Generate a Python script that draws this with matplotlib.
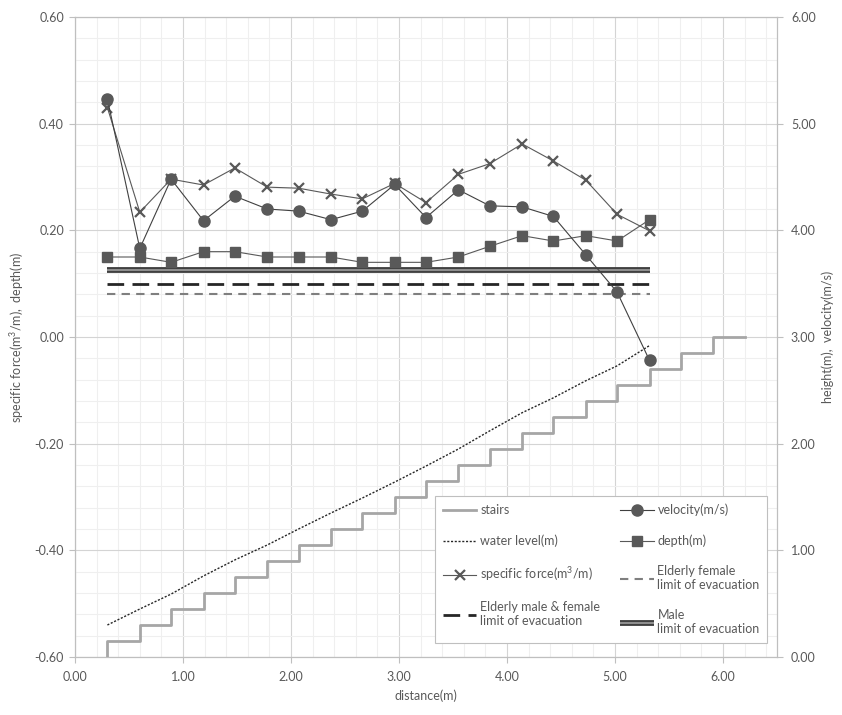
#!/usr/bin/env python

# plot.py
#
# Flow over a staircase: specific force, depth, velocity and water level
# ------------------------------------------------------------------------------

import numpy as np
import matplotlib
matplotlib.use('Agg')
import matplotlib.pyplot as plt
from matplotlib.lines import Line2D
from matplotlib.ticker import MultipleLocator, FormatStrFormatter

# -------------
# Data
# -------------

# Distance of the measurement points (m)
dist = [0.30, 0.60, 0.89, 1.19, 1.48, 1.78, 2.07, 2.37, 2.66,
        2.96, 3.25, 3.55, 3.84, 4.14, 4.43, 4.73, 5.02, 5.32]

# Left axis
spec_force = [0.430, 0.234, 0.296, 0.285, 0.317, 0.281, 0.279, 0.268, 0.259,
              0.288, 0.252, 0.305, 0.325, 0.362, 0.330, 0.294, 0.230, 0.199]
depth = [0.15, 0.15, 0.14, 0.16, 0.16, 0.15, 0.15, 0.15, 0.14,
         0.14, 0.14, 0.15, 0.17, 0.19, 0.18, 0.19, 0.18, 0.22]

# Right axis
velocity = [5.23, 3.83, 4.48, 4.09, 4.32, 4.20, 4.18, 4.10, 4.18,
            4.43, 4.12, 4.38, 4.23, 4.22, 4.13, 3.77, 3.42, 2.78]
water_level = [0.30, 0.45, 0.59, 0.76, 0.91, 1.05, 1.20, 1.35, 1.49,
               1.64, 1.79, 1.95, 2.12, 2.29, 2.43, 2.59, 2.73, 2.92]

# Stairs: riser positions (m) and tread heights (m)
stair_x = [0.30, 0.60, 0.89, 1.19, 1.48, 1.78, 2.07, 2.37, 2.66, 2.96, 3.25,
           3.55, 3.84, 4.14, 4.43, 4.73, 5.02, 5.32, 5.61, 5.91, 6.20]
stair_h = [0.15, 0.30, 0.45, 0.60, 0.75, 0.90, 1.05, 1.20, 1.35, 1.50,
           1.65, 1.80, 1.95, 2.10, 2.25, 2.40, 2.55, 2.70, 2.85, 3.00]

# Evacuation limits (specific force, m3/m)
lim_male = 0.125
lim_elderly_mf = 0.10
lim_elderly_f = 0.08

# Labels
lab_stairs = 'stairs'
lab_water = 'water level(m)'
lab_force = 'specific force(m$^3$/m)'
lab_elderly_mf = 'Elderly male & female\nlimit of evacuation'
lab_velocity = 'velocity(m/s)'
lab_depth = 'depth(m)'
lab_elderly_f = 'Elderly female\nlimit of evacuation'
lab_male = 'Male\nlimit of evacuation'

# ------------------------------------------------------------------------------

plt.rcParams['font.family'] = ['Lato', 'DejaVu Sans']
plt.rcParams['mathtext.fontset'] = 'custom'
plt.rcParams['mathtext.rm'] = 'Lato'
txtcol = '#595959'
mkcol = '#595959'

fig = plt.figure(figsize=(8.42, 7.15), dpi=100)
ax = fig.add_axes([75 / 842., 1 - 657 / 715., 702 / 842., 640 / 715.])
ax2 = ax.twinx()

# Grid
ax.set_xlim(0, 6.5)
ax.set_ylim(-0.6, 0.6)
ax2.set_ylim(0, 6)
ax.xaxis.set_major_locator(MultipleLocator(1.0))
ax.xaxis.set_minor_locator(MultipleLocator(0.2))
ax.yaxis.set_major_locator(MultipleLocator(0.2))
ax.yaxis.set_minor_locator(MultipleLocator(0.04))
ax2.yaxis.set_major_locator(MultipleLocator(1.0))
ax2.yaxis.set_minor_locator(MultipleLocator(0.2))
ax.grid(which='major', color='#d4d4d4', lw=0.8)
ax.grid(which='minor', color='#efefef', lw=0.8)
ax.set_axisbelow(True)

# Left axis series
ax.plot([dist[0], dist[-1]], [lim_elderly_f] * 2, color='#7f7f7f', lw=1.5,
        dashes=(4, 3))
ax.plot([dist[0], dist[-1]], [lim_elderly_mf] * 2, color='#262626', lw=2,
        dashes=(6, 3))
ax.plot([dist[0], dist[-1]], [lim_male] * 2, color='#404040', lw=4.2,
        solid_capstyle='butt')
ax.plot([dist[0], dist[-1]], [lim_male] * 2, color='#a6a6a6', lw=1.1,
        solid_capstyle='butt')
ax.plot(dist, depth, color=mkcol, lw=0.8, marker='s', ms=6.5, mfc=mkcol, mec=mkcol)
ax.plot(dist, spec_force, color=mkcol, lw=0.8, marker='x', ms=7.5, mew=1.6,
        mec=mkcol)

# Right axis series
ax2.step([stair_x[0]] + stair_x, [0.0] + stair_h + [stair_h[-1]], where='post',
         color='#a6a6a6', lw=2)
ax2.plot(dist, water_level, color='#262626', lw=1, linestyle=(0, (1.5, 1.2)))
ax2.plot(dist, velocity, color='#404040', lw=0.8, marker='o', ms=8, mfc=mkcol,
         mec=mkcol)

# Axes styling
for a in (ax, ax2):
    for s in a.spines.values():
        s.set_color('#bfbfbf')
        s.set_linewidth(0.8)
    a.tick_params(which='major', length=4, color='#bfbfbf', labelcolor=txtcol,
                  labelsize=9)
    a.tick_params(which='minor', length=0)
ax.yaxis.set_major_formatter(FormatStrFormatter('%.2f'))
ax.xaxis.set_major_formatter(FormatStrFormatter('%.2f'))
ax2.yaxis.set_major_formatter(FormatStrFormatter('%.2f'))
ax.tick_params(axis='y', pad=4)
ax2.tick_params(axis='y', pad=6)
ax.tick_params(axis='x', pad=6)

ax.set_xlabel('distance(m)', color=txtcol, fontsize=9, labelpad=5)
ax.set_ylabel('specific force(m$^3$/m),  depth(m)', color=txtcol, fontsize=9,
              labelpad=6)
ax2.set_ylabel('height(m),  velocity(m/s)', color=txtcol, fontsize=9,
               labelpad=4)

# Legend (row-major order in the reference, matplotlib fills column-major)
h_stairs = Line2D([], [], color='#a6a6a6', lw=2)
h_water = Line2D([], [], color='#262626', lw=1, linestyle=(0, (1.5, 1.2)))
h_force = Line2D([], [], color=mkcol, lw=0.8, marker='x', ms=7.5, mew=1.6)
h_emf = Line2D([], [], color='#262626', lw=2, dashes=(6, 3))
h_vel = Line2D([], [], color='#404040', lw=0.8, marker='o', ms=8, mfc=mkcol, mec=mkcol)
h_depth = Line2D([], [], color=mkcol, lw=0.8, marker='s', ms=6.5, mfc=mkcol, mec=mkcol)
h_ef = Line2D([], [], color='#7f7f7f', lw=1.5, dashes=(4, 3))
h_male = (Line2D([], [], color='#404040', lw=4.2, solid_capstyle='butt'),
          Line2D([], [], color='#a6a6a6', lw=1.1, solid_capstyle='butt'))

handles = [h_stairs, h_water, h_force, h_emf, h_vel, h_depth, h_ef, h_male]
labels = [lab_stairs, lab_water, lab_force, lab_elderly_mf,
          lab_velocity, lab_depth, lab_elderly_f, lab_male]
leg = ax2.legend(handles, labels, ncol=2, loc='lower left',
                 bbox_to_anchor=(0.513, 0.022, 0.473, 0.234), mode='expand',
                 borderaxespad=0, fancybox=False, framealpha=1,
                 edgecolor='#bfbfbf', fontsize=9, labelcolor=txtcol,
                 handlelength=2.7, handletextpad=0.3, labelspacing=1.45,
                 borderpad=0.6, columnspacing=0.8)
leg.get_frame().set_linewidth(0.8)

plt.savefig('out.png', dpi=100, facecolor='w')
plt.close()
